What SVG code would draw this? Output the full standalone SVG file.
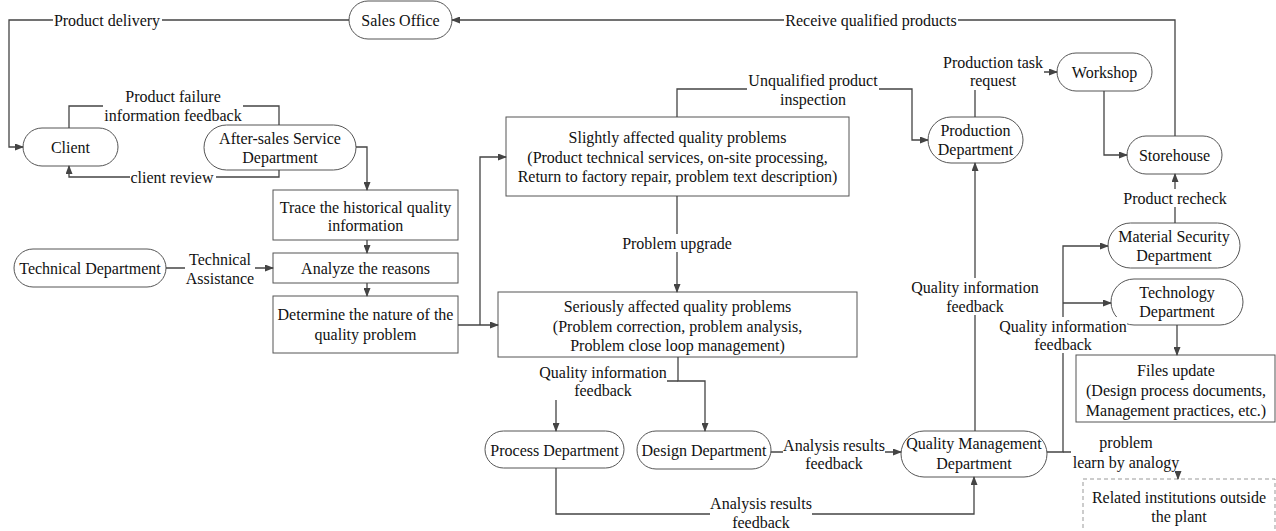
<svg xmlns="http://www.w3.org/2000/svg" width="1276" height="531" viewBox="0 0 1276 531">
<style>
text{font-family:"Liberation Serif","Times New Roman",serif;font-size:16px;fill:#111;text-anchor:middle;dominant-baseline:central}
.node{fill:#fff;stroke:#555;stroke-width:1}
.dash{fill:#fff;stroke:#999;stroke-width:1;stroke-dasharray:4 3}
.edge{fill:none;stroke:#444;stroke-width:1.3}
.bg{fill:#fff;stroke:none}
</style>
<defs>
<marker id="arr" markerUnits="userSpaceOnUse" markerWidth="9" markerHeight="7" refX="8" refY="3.5" orient="auto">
<path d="M0,0 L9,3.5 L0,7 z" fill="#444"/>
</marker>
</defs>
<rect width="1276" height="531" fill="#fff"/>

<g id="nodes">
<g id="sales"><rect class="node" x="349" y="1" width="103" height="38" rx="19"/><text x="400.5" y="20">Sales Office</text></g>
<g id="client"><rect class="node" x="23" y="128" width="95" height="38" rx="19"/><text x="70.5" y="147">Client</text></g>
<g id="aftersales"><rect class="node" x="204" y="125" width="152" height="45" rx="22.5"/><text x="280" y="138">After-sales Service</text><text x="280" y="157">Department</text></g>
<g id="techdept"><rect class="node" x="14" y="249" width="152" height="38" rx="19"/><text x="90" y="268">Technical Department</text></g>
<g id="trace"><rect class="node" x="273" y="190" width="185" height="50"/><text x="365.5" y="207">Trace the historical quality</text><text x="365.5" y="225">information</text></g>
<g id="analyze"><rect class="node" x="273" y="253" width="185" height="30"/><text x="365.5" y="268">Analyze the reasons</text></g>
<g id="determine"><rect class="node" x="273" y="296" width="185" height="57"/><text x="365.5" y="314">Determine the nature of the</text><text x="365.5" y="334">quality problem</text></g>
<g id="slight"><rect class="node" x="506" y="117" width="343" height="79"/><text x="677.5" y="137">Slightly affected quality problems</text><text x="677.5" y="157">(Product technical services, on-site processing,</text><text x="677.5" y="176">Return to factory repair, problem text description)</text></g>
<g id="serious"><rect class="node" x="498" y="292" width="359" height="65"/><text x="677.5" y="306">Seriously affected quality problems</text><text x="677.5" y="326">(Problem correction, problem analysis,</text><text x="677.5" y="345">Problem close loop management)</text></g>
<g id="process"><rect class="node" x="485" y="431" width="139" height="37" rx="18.5"/><text x="554.5" y="450">Process Department</text></g>
<g id="design"><rect class="node" x="637" y="431" width="134" height="38" rx="19"/><text x="704" y="450">Design Department</text></g>
<g id="qm"><rect class="node" x="901" y="431" width="146" height="46" rx="23"/><text x="974" y="443">Quality Management</text><text x="974" y="463">Department</text></g>
<g id="production"><rect class="node" x="928" y="117" width="95" height="46" rx="23"/><text x="975.5" y="130">Production</text><text x="975.5" y="149">Department</text></g>
<g id="workshop"><rect class="node" x="1057" y="53" width="95" height="38" rx="19"/><text x="1104.5" y="72">Workshop</text></g>
<g id="storehouse"><rect class="node" x="1127" y="136" width="95" height="38" rx="19"/><text x="1174.5" y="155">Storehouse</text></g>
<g id="material"><rect class="node" x="1108" y="223" width="132" height="45" rx="22.5"/><text x="1174" y="236">Material Security</text><text x="1174" y="255">Department</text></g>
<g id="technology"><rect class="node" x="1111" y="279" width="132" height="46" rx="23"/><text x="1177" y="292">Technology</text><text x="1177" y="311">Department</text></g>
<g id="files"><rect class="node" x="1076" y="355" width="199" height="67"/><text x="1176" y="370">Files update</text><text x="1176" y="390">(Design process documents,</text><text x="1176" y="410">Management practices, etc.)</text></g>
<g id="related"><rect class="dash" x="1083" y="479" width="192" height="60"/><text x="1179" y="497">Related institutions outside</text><text x="1179" y="516">the plant</text></g>
</g>

<g id="connectors">
<path class="edge" d="M349,20 H9 V147 H23" marker-end="url(#arr)"/>
<path class="edge" d="M1175,136 V20 H452" marker-end="url(#arr)"/>
<path class="edge" d="M69,128 V106 H279 V125"/>
<path class="edge" d="M279,170 V177 H69 V166" marker-end="url(#arr)"/>
<path class="edge" d="M356,147 H367 V190" marker-end="url(#arr)"/>
<path class="edge" d="M367,240 V253" marker-end="url(#arr)"/>
<path class="edge" d="M367,283 V296" marker-end="url(#arr)"/>
<path class="edge" d="M166,268 H273" marker-end="url(#arr)"/>
<path class="edge" d="M458,325 H498" marker-end="url(#arr)"/>
<path class="edge" d="M480,325 V157 H506" marker-end="url(#arr)"/>
<path class="edge" d="M677,117 V89 H912 V140 H928" marker-end="url(#arr)"/>
<path class="edge" d="M677,196 V292" marker-end="url(#arr)"/>
<path class="edge" d="M975,117 V72 H1057" marker-end="url(#arr)"/>
<path class="edge" d="M1104,91 V155 H1127" marker-end="url(#arr)"/>
<path class="edge" d="M1175,223 V174" marker-end="url(#arr)"/>
<path class="edge" d="M1177,325 V355" marker-end="url(#arr)"/>
<path class="edge" d="M678,357 V381 H705 V431" marker-end="url(#arr)"/>
<path class="edge" d="M678,381 H556 V431" marker-end="url(#arr)"/>
<path class="edge" d="M771,452 H901" marker-end="url(#arr)"/>
<path class="edge" d="M556,468 V514 H974 V477" marker-end="url(#arr)"/>
<path class="edge" d="M975,431 V163" marker-end="url(#arr)"/>
<path class="edge" d="M1047,452 H1063 V246 H1108" marker-end="url(#arr)"/>
<path class="edge" d="M1063,303 H1111" marker-end="url(#arr)"/>
<path class="edge" d="M1063,452 H1178 V479" marker-end="url(#arr)"/>

<g id="labels">
<rect class="bg" x="53" y="11" width="109" height="18"/><text x="107" y="20">Product delivery</text>
<rect class="bg" x="784" y="11" width="174" height="18"/><text x="871" y="20">Receive qualified products</text>
<rect class="bg" x="103" y="87" width="140" height="37"/><text x="173" y="96">Product failure</text><text x="173" y="115">information feedback</text>
<rect class="bg" x="130" y="168" width="86" height="18"/><text x="172" y="177">client review</text>
<rect class="bg" x="185" y="249" width="70" height="38"/><text x="220" y="259">Technical</text><text x="220" y="278">Assistance</text>
<rect class="bg" x="747" y="71" width="132" height="37"/><text x="813" y="80">Unqualified product</text><text x="813" y="99">inspection</text>
<rect class="bg" x="942" y="53" width="102" height="37"/><text x="993" y="62">Production task</text><text x="993" y="80">request</text>
<rect class="bg" x="621" y="234" width="112" height="18"/><text x="677" y="243">Problem upgrade</text>
<rect class="bg" x="1131" y="189" width="88" height="18"/><text x="1175" y="198">Product recheck</text>
<rect class="bg" x="911" y="278" width="128" height="37"/><text x="975" y="287">Quality information</text><text x="975" y="306">feedback</text>
<rect class="bg" x="999" y="317" width="128" height="36"/><text x="1063" y="326">Quality information</text><text x="1063" y="344">feedback</text>
<rect class="bg" x="539" y="363" width="128" height="37"/><text x="603" y="372">Quality information</text><text x="603" y="390">feedback</text>
<rect class="bg" x="783" y="436" width="102" height="36"/><text x="834" y="445">Analysis results</text><text x="834" y="463">feedback</text>
<rect class="bg" x="710" y="494" width="102" height="37"/><text x="761" y="503">Analysis results</text><text x="761" y="522">feedback</text>
<rect class="bg" x="1071" y="433" width="111" height="38"/><text x="1126" y="442">problem</text><text x="1126" y="462">learn by analogy</text>
</g>
</g>
</svg>
